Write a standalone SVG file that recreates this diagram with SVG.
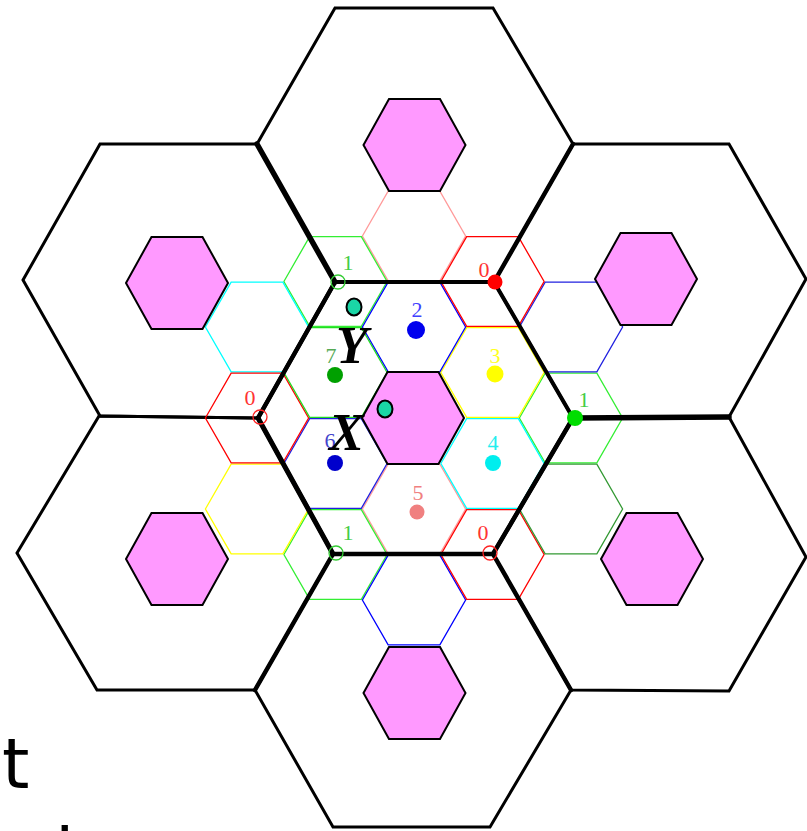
<svg xmlns="http://www.w3.org/2000/svg" xmlns:xlink="http://www.w3.org/1999/xlink" width="807" height="831" viewBox="0 0 807 831">
<style>
.big{fill:none;stroke:#000;stroke-width:3;stroke-linejoin:miter}
.thick{fill:none;stroke:#000;stroke-linecap:round}
.pink{fill:#ff99ff;stroke:#000;stroke-width:2}
.cell{fill:none;stroke-width:1.3}
.lbl{font-family:"Liberation Serif","Times New Roman",serif;font-size:22px;text-anchor:middle}
.big-letter{font-family:"Liberation Serif","Times New Roman",serif;font-size:52px;font-weight:bold;font-style:italic;fill:#000}
.teal{fill:#1ad6a6;stroke:#000;stroke-width:2}
</style>
<defs>
<path id="sh" d="M-51.6,0 L-25.85,-44.9 L25.85,-44.9 L51.6,0 L25.85,44.9 L-25.85,44.9 Z"/>
<path id="ph" d="M-51,0 L-25.5,-46 L25.5,-46 L51,0 L25.5,46 L-25.5,46 Z"/>
</defs>
<rect width="807" height="831" fill="#fff"/>

<g id="big-hexes">
<g id="hex-top"><polygon class="big" points="335,8 493,8 573,144 494,282 335,282 257,144"/></g>
<g id="hex-upper-left"><polygon class="big" points="100,144 257,144 335,282 258,418 100,416 23,280"/></g>
<g id="hex-upper-right"><polygon class="big" points="573,144 729,144 806,279 729,417 573,418 494,282"/></g>
<g id="hex-lower-left"><polygon class="big" points="99,416 258,418 333,554 255,690 97,690 17,553"/></g>
<g id="hex-lower-right"><polygon class="big" points="573,418 729,417 806,557 729,691 571,690 493,554"/></g>
<g id="hex-bottom"><polygon class="big" points="333,554 493,554 571,690 490,827 333,827 255,690"/></g>
</g>

<g id="cells">
<use id="cell-0m4" xlink:href="#sh" href="#sh" x="414" y="236" class="cell" stroke="#ff9a9a"/>
<use id="cell-5" xlink:href="#sh" href="#sh" x="414" y="509" class="cell" stroke="#ff9a9a"/>
<use id="cell-m1m3" xlink:href="#sh" href="#sh" x="335.5" y="281.5" class="cell" stroke="#33ee33"/>
<use id="cell-2p0" xlink:href="#sh" href="#sh" x="571" y="418" class="cell" stroke="#33ee33"/>
<use id="cell-m1p3" xlink:href="#sh" href="#sh" x="335.5" y="554.5" class="cell" stroke="#33ee33"/>
<use id="cell-m2m2" xlink:href="#sh" href="#sh" x="257" y="327" class="cell" stroke="#00ffff"/>
<use id="cell-4" xlink:href="#sh" href="#sh" x="492.5" y="463.5" class="cell" stroke="#00ffff"/>
<use id="cell-m2p2" xlink:href="#sh" href="#sh" x="257" y="509" class="cell" stroke="#ffff00"/>
<use id="cell-3" xlink:href="#sh" href="#sh" x="492.5" y="372.5" class="cell" stroke="#ffff00"/>
<use id="cell-2" xlink:href="#sh" href="#sh" x="414" y="327" class="cell" stroke="#0000ff"/>
<use id="cell-6" xlink:href="#sh" href="#sh" x="335.5" y="463.5" class="cell" stroke="#2020e0"/>
<use id="cell-2m2" xlink:href="#sh" href="#sh" x="571" y="327" class="cell" stroke="#2020e0"/>
<use id="cell-0p4" xlink:href="#sh" href="#sh" x="414" y="600" class="cell" stroke="#0000ff"/>
<use id="cell-1m3" xlink:href="#sh" href="#sh" x="492.5" y="281.5" class="cell" stroke="#ff0000"/>
<use id="cell-1p3" xlink:href="#sh" href="#sh" x="492.5" y="554.5" class="cell" stroke="#ff0000"/>
<use id="cell-m2p0" xlink:href="#sh" href="#sh" x="257" y="418" class="cell" stroke="#ff0000"/>
<use id="cell-2p2" xlink:href="#sh" href="#sh" x="571" y="509" class="cell" stroke="#339933"/>
<use id="cell-7" xlink:href="#sh" href="#sh" x="335.5" y="372.5" class="cell" stroke="#22dd22"/>
</g>

<g id="pink-hexes">
<g id="pink-center"><use xlink:href="#ph" href="#ph" x="413" y="418" class="pink"/></g>
<g id="pink-top"><use xlink:href="#ph" href="#ph" x="414.5" y="145" class="pink"/></g>
<g id="pink-upper-left"><use xlink:href="#ph" href="#ph" x="177" y="283" class="pink"/></g>
<g id="pink-upper-right"><use xlink:href="#ph" href="#ph" x="646" y="279" class="pink"/></g>
<g id="pink-lower-left"><use xlink:href="#ph" href="#ph" x="177" y="559" class="pink"/></g>
<g id="pink-lower-right"><use xlink:href="#ph" href="#ph" x="652" y="559" class="pink"/></g>
<g id="pink-bottom"><use xlink:href="#ph" href="#ph" x="414.5" y="693" class="pink"/></g>
</g>

<g id="hex-center"><polygon points="335,282 494,282 573,418 493,554 333,554 258,418" fill="none" stroke="#000" stroke-width="4"/></g>

<g id="connectors">
<line class="thick" x1="257" y1="144" x2="335" y2="282" stroke-width="5.5"/>
<line class="thick" x1="494" y1="282" x2="573" y2="144" stroke-width="4.5"/>
<line class="thick" x1="573" y1="418" x2="729" y2="417" stroke-width="5.5"/>
<line class="thick" x1="335" y1="282" x2="258" y2="418" stroke-width="4.5"/>
<line class="thick" x1="258" y1="418" x2="333" y2="554" stroke-width="5"/>
<line class="thick" x1="333" y1="554" x2="255" y2="690" stroke-width="4.5"/>
<line class="thick" x1="493" y1="554" x2="571" y2="690" stroke-width="4.5"/>
<line class="thick" x1="573" y1="418" x2="493" y2="554" stroke-width="4.5"/>
<line class="thick" x1="333" y1="554" x2="493" y2="554" stroke-width="4.5"/>
</g>

<g id="vertex-markers">
<g id="v1-ul"><circle cx="338" cy="282" r="7" fill="none" stroke="#33cc33" stroke-width="1.3"/><text class="lbl" x="348" y="270" fill="#44cc44">1</text></g>
<g id="v0-ur"><circle cx="495" cy="282" r="7.5" fill="#ff0000"/><text class="lbl" x="484" y="277" fill="#ff3333">0</text></g>
<g id="v1-r"><circle cx="575" cy="418" r="8" fill="#00dd00"/><text class="lbl" x="584" y="407" fill="#44cc44">1</text></g>
<g id="v0-lr"><circle cx="490" cy="553" r="7" fill="none" stroke="#ff2222" stroke-width="1.3"/><text class="lbl" x="483" y="540" fill="#ff3333">0</text></g>
<g id="v1-ll"><circle cx="336" cy="553" r="7" fill="none" stroke="#33cc33" stroke-width="1.3"/><text class="lbl" x="348" y="540" fill="#44cc44">1</text></g>
<g id="v0-l"><circle cx="260" cy="417" r="7" fill="none" stroke="#ff2222" stroke-width="1.3"/><text class="lbl" x="250" y="405" fill="#ff3333">0</text></g>
</g>

<g id="cell-markers">
<g id="m2"><circle cx="416" cy="330" r="9" fill="#0000ee"/><text class="lbl" x="417" y="317" fill="#4040ff">2</text></g>
<g id="m3"><circle cx="495" cy="374" r="8.5" fill="#ffff00"/><text class="lbl" x="495" y="363" fill="#ffff22">3</text></g>
<g id="m4"><circle cx="493" cy="463" r="8" fill="#00eeee"/><text class="lbl" x="493" y="450" fill="#22eeee">4</text></g>
<g id="m5"><circle cx="417" cy="512" r="7.5" fill="#f08080"/><text class="lbl" x="418" y="500" fill="#f08080">5</text></g>
<g id="m6"><circle cx="335" cy="463" r="8" fill="#0000cc"/><text class="lbl" x="330" y="448" fill="#4444cc">6</text></g>
<g id="m7"><circle cx="335" cy="375" r="8" fill="#00a000"/><text class="lbl" x="331" y="363" fill="#55aa55">7</text></g>
</g>

<g id="points">
<g id="pY"><ellipse class="teal" cx="354" cy="307" rx="7.5" ry="8.5"/><text class="big-letter" x="336" y="363">Y</text></g>
<g id="pX"><ellipse class="teal" cx="385" cy="409" rx="7.5" ry="8.5"/><text class="big-letter" x="329" y="450">X</text></g>
</g>

<g id="caption">
<text x="2" y="788" font-family="DejaVu Sans, sans-serif" font-size="70" fill="#000">t</text>
<text x="55" y="878" font-family="DejaVu Sans, sans-serif" font-size="70" fill="#000">i</text>
</g>
</svg>
